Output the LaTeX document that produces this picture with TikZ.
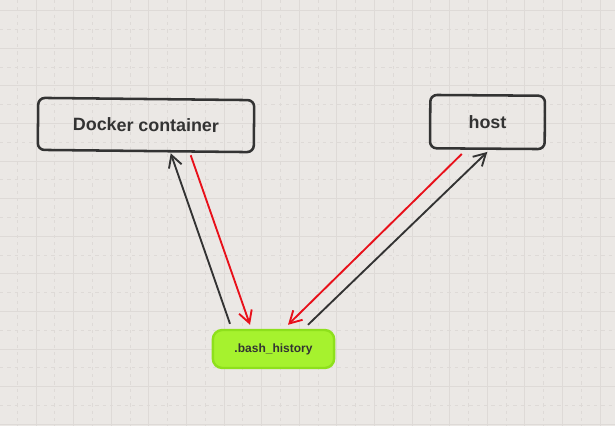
\documentclass[tikz,border=0pt]{standalone}
\usepackage{fontspec}
\setmainfont{Liberation Sans}
\usetikzlibrary{arrows.meta,calc}
\definecolor{paper}{HTML}{EBE8E5}
\definecolor{gridln}{HTML}{DEDAD7}
\definecolor{ink}{HTML}{333333}
\definecolor{redx}{HTML}{E8101A}
\definecolor{limefill}{HTML}{A6F22E}
\definecolor{limeedge}{HTML}{8EE01C}

\begin{document}
\begin{tikzpicture}[x=0.75pt,y=-0.75pt,
        box/.style={draw=ink,line width=1.9pt,rounded corners=5pt,
            text=ink,font=\bfseries\fontsize{13.4pt}{15pt}\selectfont},
        filebox/.style={draw=limeedge,fill=limefill,line width=1.8pt,rounded corners=7pt,
            text=ink,font=\bfseries\fontsize{9pt}{11pt}\selectfont,
            minimum width=91pt,minimum height=28.5pt},
        link/.style={line width=1.4pt,-{Straight Barb[length=9pt,width=10pt]}}]
            \fill [paper] (0,0) rectangle (615,426);
            \useasboundingbox (0,0) rectangle (615,426);
            \foreach \i in {0,...,16} {
                \draw [gridln,line width=0.6pt] ({36+37.6*\i},0) -- ({36+37.6*\i},426);
                \draw [gridln,line width=0.6pt,dash pattern=on 2.5pt off 3pt] ({17.2+37.6*\i},0) -- ({17.2+37.6*\i},426);
            }
            \foreach \j in {0,...,11} {
                \draw [gridln,line width=0.6pt] (0,{10.5+37.6*\j}) -- (615,{10.5+37.6*\j});
                \draw [gridln,line width=0.6pt,dash pattern=on 2.5pt off 3pt] (0,{29.3+37.6*\j}) -- (615,{29.3+37.6*\j});
            }

            \node [box,minimum width=162pt,minimum height=39pt,rotate=-0.6] (docker) at (146,125) {Docker container};
            \node [box,minimum width=86pt,minimum height=40pt,rotate=-0.4] (host) at (487.5,122) {host};
            \node [filebox] (bash) at (273.5,349) {.bash\_history};

            \draw [link,ink] ($(bash.north)+(-43.5,-5)$) -- ($(docker.south)+(25,1)$);
            \draw [link,redx] ($(docker.south)+(45,3)$) -- ($(bash.north)+(-23.5,-4)$);
            \draw [link,redx] ($(host.south)+(-25.5,4)$) -- ($(bash.north)+(14.5,-4)$);
            \draw [link,ink] ($(bash.north)+(34.5,-4)$) -- ($(host.south)+(0,2)$);
        \end{tikzpicture}
\end{document}
